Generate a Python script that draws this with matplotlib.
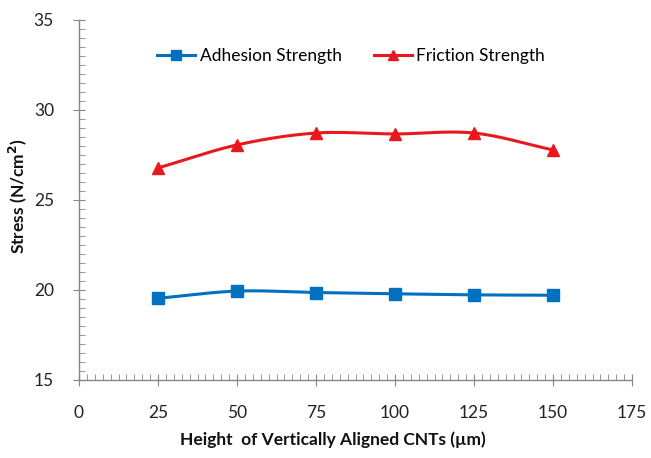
import numpy as np
import matplotlib
matplotlib.use("Agg")
import matplotlib.pyplot as plt
from matplotlib.ticker import MultipleLocator

heights = [25, 50, 75, 100, 125, 150]
adhesion = [19.54, 19.94, 19.86, 19.79, 19.73, 19.71]
friction = [26.78, 28.06, 28.72, 28.67, 28.72, 27.78]
x_ticks = [0, 25, 50, 75, 100, 125, 150, 175]
y_ticks = [15, 20, 25, 30, 35]

BLUE = "#0070C0"
RED = "#E8191C"

plt.rcParams['font.family'] = ['Lato', 'DejaVu Sans']


def smooth(xs, ys, n=30):
    xs = np.asarray(xs, float); ys = np.asarray(ys, float)
    P = np.column_stack([xs, ys])
    P = np.vstack([P[0] - (P[1] - P[0]), P, P[-1] + (P[-1] - P[-2])])
    out = []
    for i in range(1, len(P) - 2):
        p0, p1, p2, p3 = P[i - 1], P[i], P[i + 1], P[i + 2]
        t = np.linspace(0, 1, n, endpoint=False)[:, None]
        pts = 0.5 * ((2 * p1) + (-p0 + p2) * t + (2 * p0 - 5 * p1 + 4 * p2 - p3) * t ** 2
                     + (-p0 + 3 * p1 - 3 * p2 + p3) * t ** 3)
        out.append(pts)
    out.append(P[-2][None, :])
    out = np.vstack(out)
    return out[:, 0], out[:, 1]


W, H = 651, 458
fig = plt.figure(figsize=(W / 100, H / 100), dpi=100)
ax = fig.add_axes([79 / W, 1 - 380 / H, (632 - 79) / W, (380 - 20) / H])

sx, sy = smooth(heights, adhesion)
ax.plot(sx, sy, color=BLUE, lw=2.2, zorder=3)
ax.plot(heights, adhesion, 's', color=BLUE, ms=8, zorder=4)
sx, sy = smooth(heights, friction)
ax.plot(sx, sy, color=RED, lw=2.2, zorder=3)
ax.plot(heights, friction, '^', color=RED, ms=8, zorder=4)

ax.plot([], [], color=BLUE, lw=2.2, marker='s', ms=7, label='Adhesion Strength')
ax.plot([], [], color=RED, lw=2.2, marker='^', ms=7, label='Friction Strength')
ax.legend(loc='center', bbox_to_anchor=(0.492, 0.9), ncol=2, frameon=False,
          fontsize=12.5, handlelength=2.2, columnspacing=1.85, handletextpad=0.25,
          borderpad=0, borderaxespad=0)

ax.set_xlim(0, 175)
ax.set_ylim(15, 35)
ax.set_xticks(x_ticks)
ax.set_yticks(y_ticks)
ax.xaxis.set_minor_locator(MultipleLocator(2.5))
ax.yaxis.set_minor_locator(MultipleLocator(0.5))
for s in ['top', 'right']:
    ax.spines[s].set_visible(False)
for s in ['left', 'bottom']:
    ax.spines[s].set_color('#868686')
    ax.spines[s].set_linewidth(1.0)
ax.tick_params(which='major', direction='inout', length=8, color='#868686', labelsize=12.5,
               labelcolor='#222222')
ax.tick_params(which='minor', direction='in', length=4, color='#868686')
ax.tick_params(axis='x', which='major', pad=14)
ax.tick_params(axis='y', which='major', pad=14)

fig.text(333 / W, 1 - 440 / H, 'Height  of Vertically Aligned CNTs (\u00b5m)', fontsize=12.5,
         fontweight='bold', ha='center', va='center', color='#111111')
fig.text(18 / W, 1 - 196 / H, 'Stress (N/cm$^\\mathbf{2}$)', fontsize=12.5, fontweight='bold',
         ha='center', va='center', rotation=90, color='#111111')

fig.savefig('out.png', dpi=100)
